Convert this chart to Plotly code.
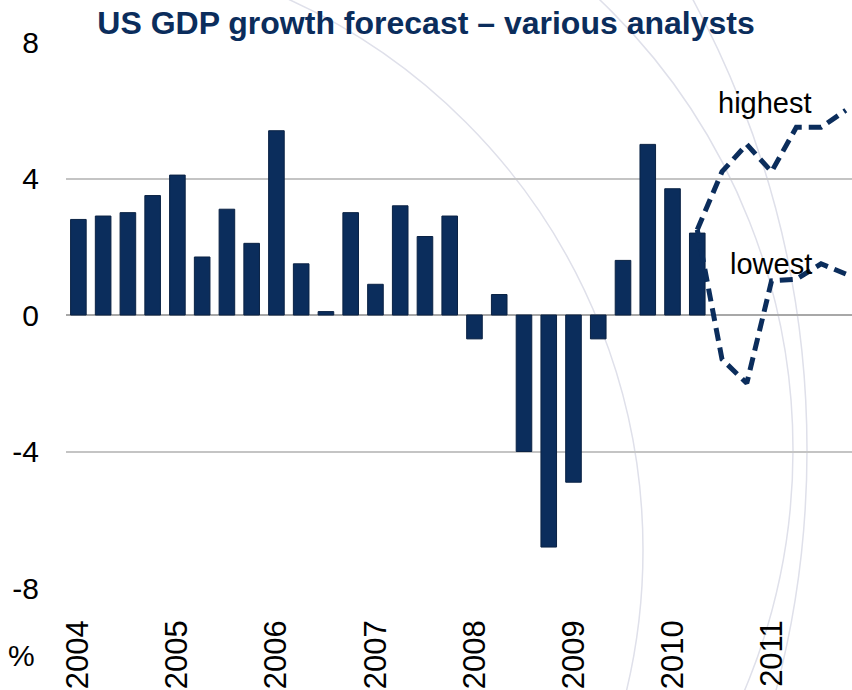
import plotly.graph_objects as go

# quarterly categories 2004Q1 .. 2011Q4
quarters = [f"{y}Q{q}" for y in range(2004, 2012) for q in range(1, 5)]
years = ["2004", "2005", "2006", "2007", "2008", "2009", "2010", "2011"]
year_ticks = [f"{y}Q1" for y in years]
y_ticks = [-8, -4, 0, 4, 8]
y_labels = ["-8", "-4", "0", "4", "8"]

# actual GDP growth (% annualised), 2004Q1 .. 2010Q2
gdp = [2.8, 2.9, 3.0, 3.5, 4.1, 1.7, 3.1, 2.1,
       5.4, 1.5, 0.1, 3.0, 0.9, 3.2, 2.3, 2.9,
       -0.7, 0.6, -4.0, -6.8, -4.9, -0.7, 1.6, 5.0,
       3.7, 2.4]

# forecast range, 2010Q2 .. 2011Q4
fc_quarters = quarters[25:32]
highest = [2.5, 4.2, 5.0, 4.2, 5.5, 5.5, 6.0]
lowest = [2.5, -1.3, -2.0, 1.0, 1.05, 1.5, 1.2]

navy = "#0b2d5c"
font = "Liberation Sans, Arial, sans-serif"

fig = go.Figure()
fig.add_trace(go.Bar(x=quarters[:len(gdp)], y=gdp, marker_color=navy,
                     marker_line=dict(color="#0a2244", width=1)))
fig.add_trace(go.Scatter(x=fc_quarters, y=highest, mode="lines",
                         line=dict(color=navy, width=5, dash="13px,7px")))
fig.add_trace(go.Scatter(x=fc_quarters, y=lowest, mode="lines",
                         line=dict(color=navy, width=5, dash="13px,7px")))

# faint decorative arcs in the background (pixel -> paper)
L, R, T, B = 66, 852, 42, 588
def px(x):
    return (x - L) / (R - L)
def py(y):
    return (B - y) / (B - T)
for cx, cy, r in [(38, 550, 605), (172, 450, 621), (-138, 450, 945)]:
    fig.add_shape(type="circle", xref="paper", yref="paper", layer="below",
                  x0=px(cx - r), x1=px(cx + r), y0=py(cy + r), y1=py(cy - r),
                  line=dict(color="#dfe0ea", width=1.5))

fig.add_annotation(x=27.73, y=6.2, text="highest", showarrow=False,
                   font=dict(size=29, color="black", family=font))
fig.add_annotation(x=27.97, y=1.5, text="lowest", showarrow=False,
                   font=dict(size=29, color="black", family=font))
fig.add_annotation(x=0, y=0, xref="paper", yref="paper", text="%",
                   xanchor="center", yanchor="middle", xshift=21 - L, yshift=B - 655,
                   showarrow=False, font=dict(size=30, color="black", family=font))

fig.update_layout(
    width=852, height=690,
    margin=dict(l=L, r=852 - R, t=T, b=690 - B),
    paper_bgcolor="white", plot_bgcolor="rgba(0,0,0,0)",
    showlegend=False,
    bargap=0.37,
    font=dict(family=font, size=30, color="black"),
    title=dict(text="<b>US GDP growth forecast – various analysts</b>",
               x=0.5, xref="container", xanchor="center",
               y=1 - 23 / 690, yref="container", yanchor="middle",
               font=dict(size=32, color=navy, family=font)),
)
fig.update_xaxes(type="category", categoryorder="array", categoryarray=quarters,
                 range=[-0.5, 31.25], tickmode="array", tickvals=year_ticks,
                 ticktext=years, tickangle=-90, ticklabelstandoff=25,
                 tickfont=dict(size=31),
                 showgrid=False, zeroline=False, showline=False, ticks="")
fig.update_yaxes(range=[-8, 8], tickmode="array", tickvals=y_ticks,
                 ticktext=y_labels, showgrid=True, gridcolor="#c4c4c4",
                 gridwidth=1.5, zeroline=True, zerolinecolor="#a8a8a8",
                 zerolinewidth=1.5, ticks="", ticklabelstandoff=26,
                 tickfont=dict(size=30))

fig.write_html("out.html", config={"displayModeBar": False},
               post_script="document.body.style.margin='0';")
